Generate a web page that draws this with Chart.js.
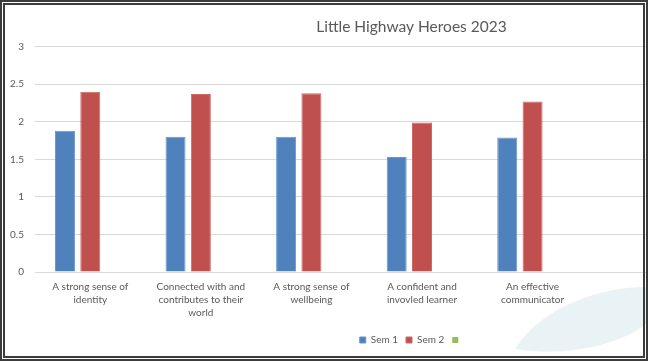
<!DOCTYPE html>
<html>
<head>
<meta charset="utf-8">
<script src="https://cdn.jsdelivr.net/npm/chart.js@4.4.1/dist/chart.umd.min.js"></script>
<style>
  html, body { margin: 0; padding: 0; overflow: hidden; background: #ffffff; }
  #wrap { position: relative; width: 648px; height: 361px; overflow: hidden; }
  #bg { position: absolute; left: 0; top: 0; }
  #c { position: absolute; left: 0; top: 0; }
  #frame { position: absolute; left: 0; top: 0; width: 648px; height: 361px; box-sizing: border-box; border: 5px double #3c3c3c; pointer-events: none; }
</style>
</head>
<body>
<div id="wrap">
  <svg id="bg" width="648" height="361">
    <path d="M 515 349 C 545 302, 610 286, 648 287 L 648 322 C 625 344, 565 358, 515 349 Z" fill="#e9f3f5"/>
  </svg>
  <canvas id="c" width="822" height="361"></canvas>
  <div id="frame"></div>
</div>
<script>
const titleText = "Little Highway Heroes 2023";
const categories = [
  ["A strong sense of", "identity"],
  ["Connected with and", "contributes to their", "world"],
  ["A strong sense of", "wellbeing"],
  ["A confident and", "invovled learner"],
  ["An effective", "communicator"],
  "",
  ""
];
const seriesNames = ["Sem 1", "Sem 2", ""];
const sem1 = [1.88, 1.80, 1.80, 1.53, 1.79, null, null];
const sem2 = [2.40, 2.37, 2.38, 1.99, 2.27, null, null];
const sem3 = [null, null, null, null, null, null, null];
const yTicks = [0, 0.5, 1, 1.5, 2, 2.5, 3];

const textColor = "#595959";
const gridColor = "#d9d9d9";
const fontFamily = "Lato, 'Open Sans', sans-serif";

new Chart(document.getElementById("c"), {
  type: "bar",
  data: {
    labels: categories,
    datasets: [
      { label: seriesNames[0], data: sem1, backgroundColor: "#4f81bd", borderColor: "#6a95c9", borderWidth: 1 },
      { label: seriesNames[1], data: sem2, backgroundColor: "#c0504d", borderColor: "#cc6a67", borderWidth: 1 },
      { label: seriesNames[2], data: sem3, backgroundColor: "#9bbb59", borderColor: "#9bbb59", borderWidth: 0 }
    ]
  },
  options: {
    responsive: false,
    animation: false,
    devicePixelRatio: 1,
    layout: { padding: { left: 14, right: 13, top: 0, bottom: 6 } },
    datasets: { bar: { categoryPercentage: 0.687, barPercentage: 0.79 } },
    plugins: {
      title: {
        display: true,
        text: titleText,
        color: textColor,
        font: { family: fontFamily, size: 15.5, weight: "normal" },
        padding: { top: 18, bottom: 10 }
      },
      legend: {
        display: true,
        position: "bottom",
        labels: {
          color: textColor,
          font: { family: fontFamily, size: 10 },
          boxWidth: 6,
          boxHeight: 6,
          padding: 8
        }
      },
      tooltip: { enabled: false }
    },
    scales: {
      x: {
        grid: { display: false, drawTicks: false },
        border: { display: true, color: gridColor, width: 1 },
        ticks: {
          color: textColor,
          font: { family: fontFamily, size: 10, lineHeight: 1.3 },
          padding: 8,
          maxRotation: 0,
          autoSkip: false
        }
      },
      y: {
        min: 0,
        max: 3,
        afterFit: (s) => { s.width = 21; },
        afterBuildTicks: (s) => { s.ticks = yTicks.map(v => ({ value: v })); },
        grid: { color: gridColor, lineWidth: 1, drawTicks: false },
        border: { display: false },
        ticks: {
          color: textColor,
          font: { family: fontFamily, size: 10 },
          mirror: true,
          crossAlign: "far",
          padding: -25,
          callback: (v) => String(v)
        }
      }
    }
  }
});
</script>
</body>
</html>
